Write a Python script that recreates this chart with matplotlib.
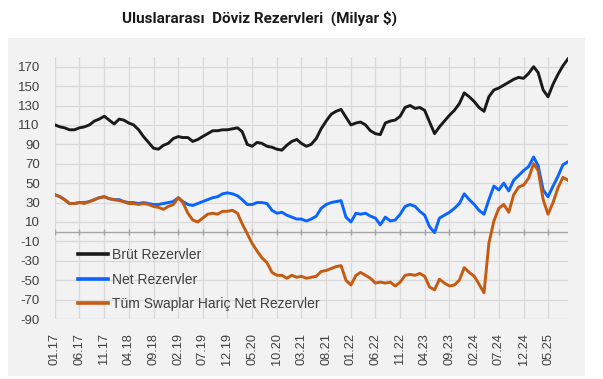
import numpy as np
import pandas as pd
import matplotlib
matplotlib.use('Agg')
import matplotlib.pyplot as plt
from matplotlib.patches import Rectangle

# monthly readings, Jan 2017 .. Sep 2025 (Milyar $)
months = pd.date_range('2017-01-01', '2025-09-01', freq='MS')

brut = [110, 108, 107, 105, 105, 107, 108, 110, 114, 116, 119, 115, 111, 116, 115, 112, 110, 105,
        98, 92, 86, 85, 89, 91, 96, 98, 97, 97, 93, 95, 98, 101, 104, 104, 105,
        105, 106, 107, 103, 90, 88, 92, 91, 88, 87, 85, 84, 89, 93, 95, 91, 88, 90,
        96, 106, 114, 121, 124, 126, 118, 110, 112, 113, 110, 104, 101, 100, 112, 114,
        115, 119, 128, 130, 127, 128, 125, 113, 101, 108, 114, 120, 125, 132, 143, 139,
        134, 128, 124, 139, 146, 148, 151, 154, 157, 159, 158, 163, 170, 164, 146, 139,
        152, 162, 171, 178]

net = [38, 36, 33, 29, 29, 30, 30, 31, 33, 35, 36, 34, 33, 33, 31, 30, 30, 29,
       30, 29, 28, 28, 29, 30, 31, 35, 31, 28, 27, 29, 31, 33, 35, 36, 39,
       40, 39, 37, 33, 28, 28, 30, 30, 29, 22, 19, 20, 17, 15, 13, 13, 11, 13,
       16, 24, 28, 30, 31, 32, 15, 10, 19, 18, 19, 16, 14, 7, 15, 11,
       12, 18, 26, 28, 26, 21, 17, 5, -1, 14, 17, 20, 24, 29, 39, 33,
       28, 22, 18, 33, 47, 43, 50, 42, 53, 58, 63, 67, 77, 68, 43, 36,
       47, 57, 69, 72]

swapsiz = [38, 36, 33, 29, 29, 30, 29, 31, 33, 35, 36, 34, 33, 32, 31, 29, 29, 28,
           29, 28, 26, 25, 23, 26, 28, 35, 30, 19, 12, 10, 14, 18, 19, 18, 21,
           21, 22, 19, 8, -2, -12, -20, -27, -32, -42, -45, -45, -48, -45, -47, -46, -48, -47,
           -46, -41, -40, -38, -36, -35, -50, -55, -45, -42, -45, -48, -53, -52, -53, -52,
           -56, -52, -45, -44, -45, -43, -46, -57, -60, -49, -53, -56, -55, -50, -37, -42,
           -46, -54, -63, -12, 11, 24, 28, 20, 38, 46, 48, 55, 70, 63, 33, 18,
           30, 45, 56, 53]

labels = ['Brüt Rezervler', 'Net Rezervler', 'Tüm Swaplar Hariç Net Rezervler']
colors = ['#1a1a1a', '#0a64ff', '#c55a11']
yticks = np.arange(-90, 171, 20)

plt.rcParams['font.family'] = ['Liberation Sans', 'DejaVu Sans']

fig = plt.figure(figsize=(6.03, 3.79), dpi=100)
fig.patch.set_facecolor('white')
fig.patches.append(Rectangle((0.013, 0.008), 0.957, 0.892, transform=fig.transFigure,
                             facecolor='#f2f2f2', edgecolor='none', zorder=-10))

ax = fig.add_axes([0.0912, 0.1583, 0.8507, 0.6913])
ax.set_facecolor('#f2f2f2')

for vals, lab, c in zip([brut, net, swapsiz], labels, colors):
    ax.plot(months, vals, color=c, lw=2.1, label=lab, solid_joinstyle='round')

ax.set_xlim(months[0], months[-1])
ax.set_ylim(-90, 180)
ax.set_yticks(yticks)
ax.set_yticklabels([str(v) for v in yticks])

tick_dates = months[::5]
ax.set_xticks(tick_dates)
ax.set_xticklabels([d.strftime('%m.%y') for d in tick_dates], rotation=90)

ax.grid(True, color='#d9d9d9', lw=0.9)
ax.set_axisbelow(True)
for s in ax.spines.values():
    s.set_visible(False)
ax.tick_params(axis='both', length=0, colors='#404040', labelsize=9.5)
ax.tick_params(axis='y', pad=11)
ax.tick_params(axis='x', pad=10, labelsize=9.2)

# zero axis line with small tick marks
ax.axhline(0, color='#a6a6a6', lw=1.0, zorder=1)
ax.plot(tick_dates, np.zeros(len(tick_dates)), linestyle='none', marker='|',
        color='#a6a6a6', ms=5, mew=1.0, zorder=1)

leg = ax.legend(loc='upper left', bbox_to_anchor=(0.044, 0.27), frameon=False,
                fontsize=10, handlelength=2.2, handletextpad=0.25, labelspacing=0.75,
                borderpad=0, borderaxespad=0)
for t in leg.get_texts():
    t.set_color('#404040')
for h in leg.get_lines():
    h.set_linewidth(2.6)

fig.text(0.43, 0.952, 'Uluslararası  Döviz Rezervleri  (Milyar $)', ha='center', va='center',
         fontsize=11, fontweight='bold', color='#1a1a1a',
         family=['Liberation Sans Narrow', 'Roboto', 'DejaVu Sans'])

fig.savefig('out.png', dpi=100, facecolor='white')
